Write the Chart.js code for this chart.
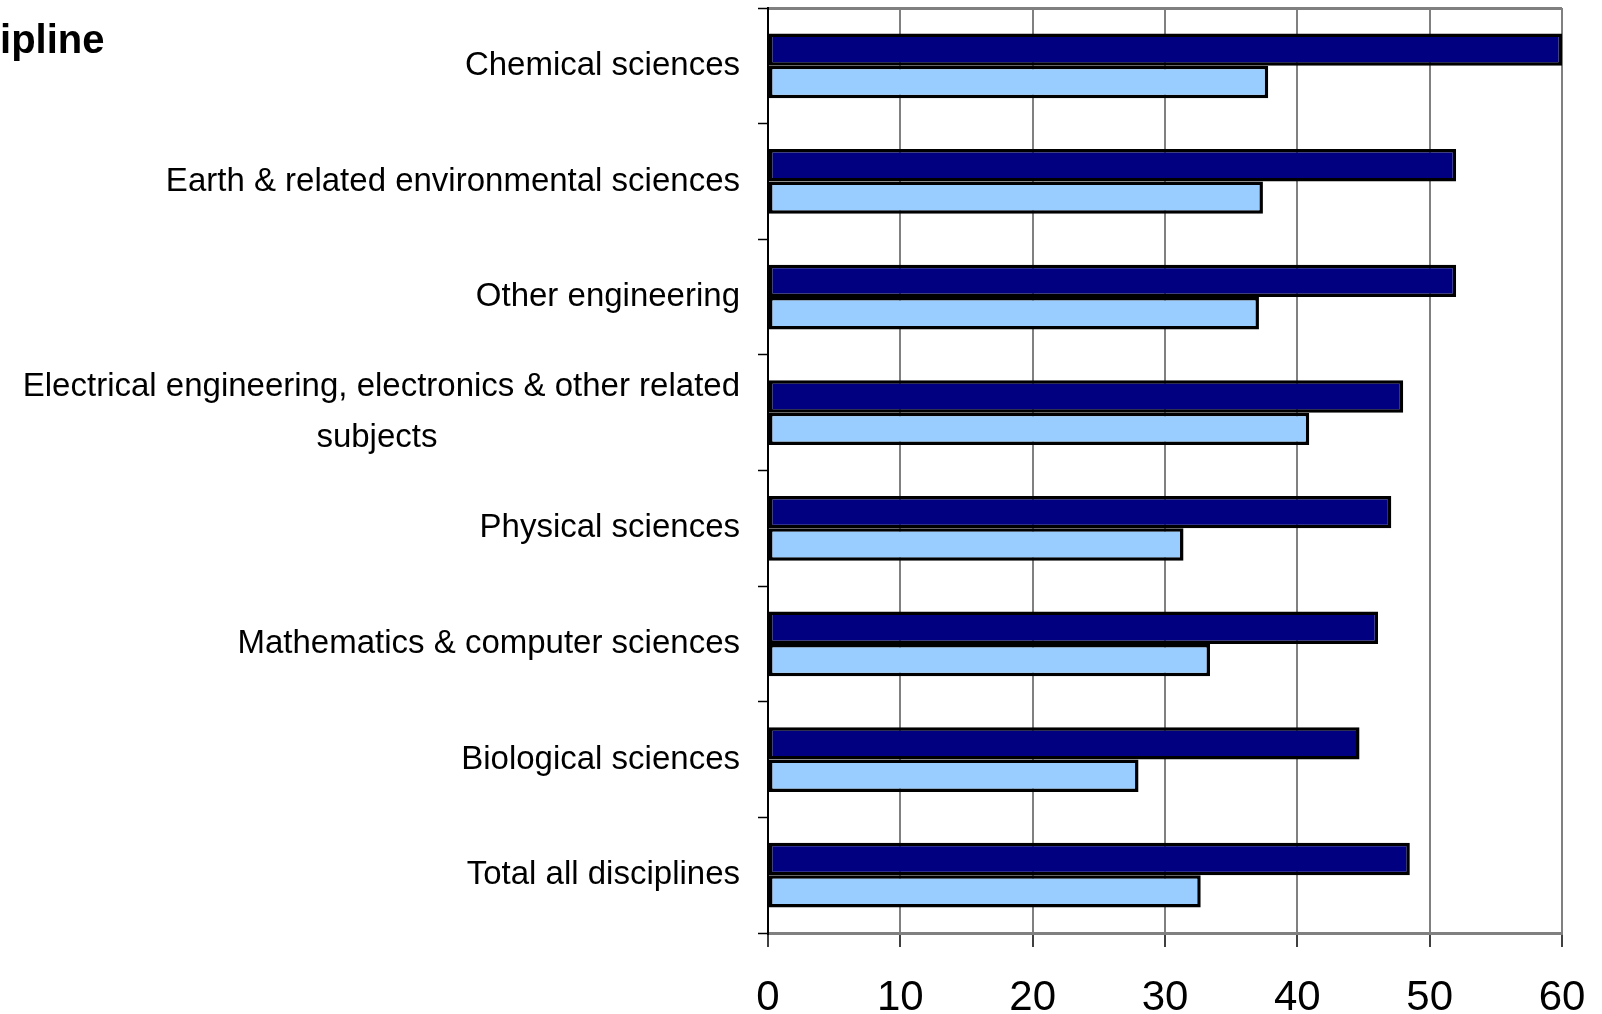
<!DOCTYPE html>
<html lang="en">
<head>
    <meta charset="UTF-8">
    <title>Discipline chart</title>
    <style>
        * {
            margin: 0;
            padding: 0;
            box-sizing: border-box;
        }

        body {
            background-color: #ffffff;
            overflow: hidden;
        }

        .wrap {
            position: relative;
            width: 1602px;
            height: 1014px;
        }

        .title {
            position: absolute;
            left: -80px;
            top: 17px;
            font-family: 'Liberation Sans', Arial, sans-serif;
            font-weight: bold;
            font-size: 40px;
            color: #000;
            white-space: nowrap;
        }
    </style>
    <script src="https://cdn.jsdelivr.net/npm/chart.js@4/dist/chart.umd.min.js"></script>
</head>
<body>
    <div class="wrap">
        <div class="title">discipline</div>
        <canvas id="chart"></canvas>
    </div>

    <script>
        // Data
        const categories = [
            ['Chemical sciences'],
            ['Earth & related environmental sciences'],
            ['Other engineering'],
            ['Electrical engineering, electronics & other related', 'subjects'],
            ['Physical sciences'],
            ['Mathematics & computer sciences'],
            ['Biological sciences'],
            ['Total all disciplines']
        ];
        const darkSeries = [60.0, 52.0, 52.0, 48.0, 47.1, 46.1, 44.7, 48.5];
        const lightSeries = [37.8, 37.4, 37.1, 40.9, 31.4, 33.4, 28.0, 32.7];
        const xTicks = [0, 10, 20, 30, 40, 50, 60];

        const labelFont = "33px 'Liberation Sans', Arial, sans-serif";

        // centre the extra lines of a wrapped label under the first one
        // (axis labels are right aligned, so pad them with trailing spaces)
        const measure = document.createElement('canvas').getContext('2d');
        measure.font = labelFont;
        const yLabels = categories.map(lines => {
            if (lines.length === 1) return lines[0];
            const w0 = measure.measureText(lines[0]).width;
            const sp = measure.measureText(' ').width;
            return lines.map((l, i) => {
                if (i === 0) return l;
                const gap = (w0 - measure.measureText(l).width) / 2;
                return l + ' '.repeat(Math.max(0, Math.round(gap / sp)));
            });
        });

        const chart = new Chart(document.getElementById('chart'), {
            type: 'bar',
            data: {
                labels: yLabels,
                datasets: [{
                    data: darkSeries,
                    backgroundColor: '#000080',
                    borderColor: '#000000',
                    borderWidth: 3.5,
                    borderSkipped: false
                }, {
                    data: lightSeries,
                    backgroundColor: '#99ccff',
                    borderColor: '#000000',
                    borderWidth: 3.5,
                    borderSkipped: false
                }]
            },
            options: {
                indexAxis: 'y',
                responsive: true,
                maintainAspectRatio: false,
                animation: false,
                layout: {
                    padding: { top: 8, right: 40, bottom: 0, left: 0 }
                },
                plugins: {
                    legend: { display: false },
                    tooltip: { enabled: false }
                },
                datasets: {
                    bar: {
                        categoryPercentage: 0.56,
                        barPercentage: 1.0
                    }
                },
                scales: {
                    x: {
                        min: xTicks[0],
                        max: xTicks[xTicks.length - 1],
                        afterBuildTicks: s => { s.ticks = xTicks.map(v => ({ value: v })); },
                        afterFit: s => {
                            s.height = 81;
                            s.paddingLeft = 0;
                            s.paddingRight = 0;
                        },
                        grid: {
                            color: '#808080',
                            lineWidth: 2,
                            tickColor: '#000000',
                            tickLength: 14,
                            tickWidth: 1.5
                        },
                        border: { color: '#808080', width: 3 },
                        ticks: {
                            color: '#000000',
                            padding: 26,
                            font: { family: "'Liberation Sans', Arial, sans-serif", size: 42 }
                        }
                    },
                    y: {
                        afterFit: s => {
                            s.width = 768;
                            s.paddingTop = 0;
                            s.paddingBottom = 0;
                        },
                        grid: {
                            color: ctx => ctx.index === 0 ? '#808080' : 'rgba(0,0,0,0)',
                            lineWidth: 3,
                            tickColor: '#000000',
                            tickLength: 10,
                            tickWidth: 1.5
                        },
                        border: { color: '#000000', width: 2 },
                        ticks: {
                            color: '#000000',
                            padding: 18,
                            font: { family: "'Liberation Sans', Arial, sans-serif", size: 33, lineHeight: 1.55 }
                        }
                    }
                }
            }
        });
    </script>
</body>
</html>
